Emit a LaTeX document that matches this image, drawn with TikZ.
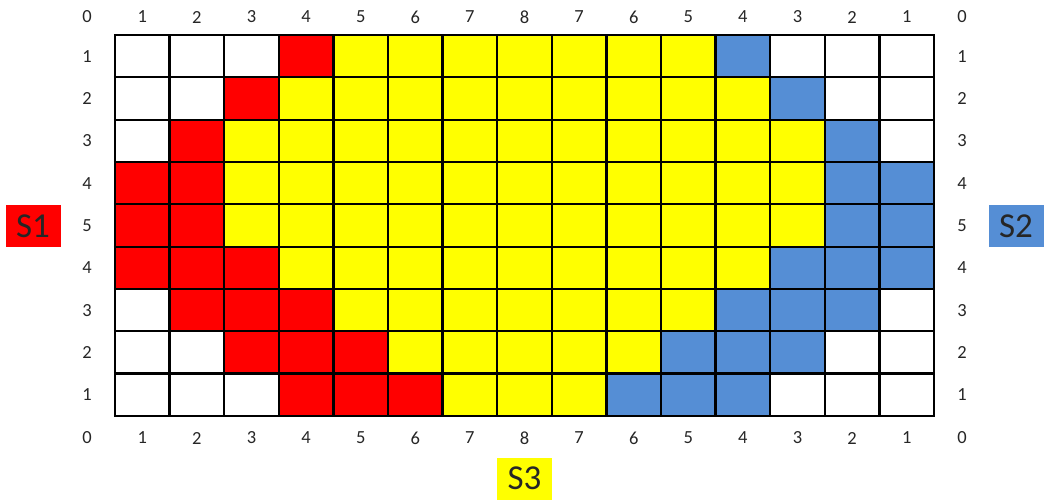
\documentclass[tikz,border=0pt]{standalone}
\usepackage{fontspec}
\setmainfont{Carlito}
\definecolor{cred}{HTML}{FF0000}
\definecolor{cyel}{HTML}{FFFF00}
\definecolor{cblu}{HTML}{558ED5}
\definecolor{ctxt}{HTML}{262626}
\begin{document}
\begin{tikzpicture}[x=1pt,y=-1pt,
  num/.style={font=\fontsize{18.5}{18.5}\selectfont,text=ctxt,inner sep=0pt},
  sbox/.style={minimum width=55pt,minimum height=42pt,inner sep=0pt,font=\fontsize{35}{35}\selectfont,text=ctxt},
  gridline/.style={line width=2.3pt,black}]
\useasboundingbox (0,0) rectangle (1046,501);
\def\L{115}\def\T{35}\def\W{54.6}\def\H{42.33}
% cell fills: row / red start / red end / yellow end / blue end
\foreach \r/\a/\b/\c/\d in {1/4/4/11/12,2/3/3/12/13,3/2/2/13/14,4/1/2/13/15,5/1/2/13/15,6/1/3/12/15,7/2/4/11/14,8/3/5/10/13,9/4/6/9/12}{
  \fill[cred] ({\L+(\a-1)*\W},{\T+(\r-1)*\H}) rectangle ({\L+\b*\W},{\T+\r*\H});
  \fill[cyel] ({\L+\b*\W},{\T+(\r-1)*\H}) rectangle ({\L+\c*\W},{\T+\r*\H});
  \fill[cblu] ({\L+\c*\W},{\T+(\r-1)*\H}) rectangle ({\L+\d*\W},{\T+\r*\H});
}
% grid
\foreach \i in {0,...,15}{\draw[gridline] ({\L+\i*\W},\T) -- ({\L+\i*\W},{\T+9*\H});}
\foreach \j in {0,...,9}{\draw[gridline] ({\L-1.15},{\T+\j*\H}) -- ({\L+15*\W+1.15},{\T+\j*\H});}
% column labels
\node[num] (tl) at (87,17) {0};
\node[num] (tr) at (962,17) {0};
\node[num] (bl) at (87,438) {0};
\node[num] (br) at (962,438) {0};
\foreach \lab [count=\i] in {1,2,3,4,5,6,7,8,7,6,5,4,3,2,1}{
  \node[num] (top\i) at ({\L+(\i-0.5)*\W},17) {\lab};
  \node[num] (bot\i) at ({\L+(\i-0.5)*\W},438) {\lab};
}
% row labels
\foreach \lab [count=\j] in {1,2,3,4,5,4,3,2,1}{
  \node[num] (left\j) at (87,{\T+(\j-0.5)*\H}) {\lab};
  \node[num] (right\j) at (962,{\T+(\j-0.5)*\H}) {\lab};
}
% S boxes
\node[sbox,fill=cred] (s1) at (33,226) {S1};
\node[sbox,fill=cblu] (s2) at (1016,226) {S2};
\node[sbox,fill=cyel] (s3) at (524.5,478.5) {S3};
\end{tikzpicture}
\end{document}
